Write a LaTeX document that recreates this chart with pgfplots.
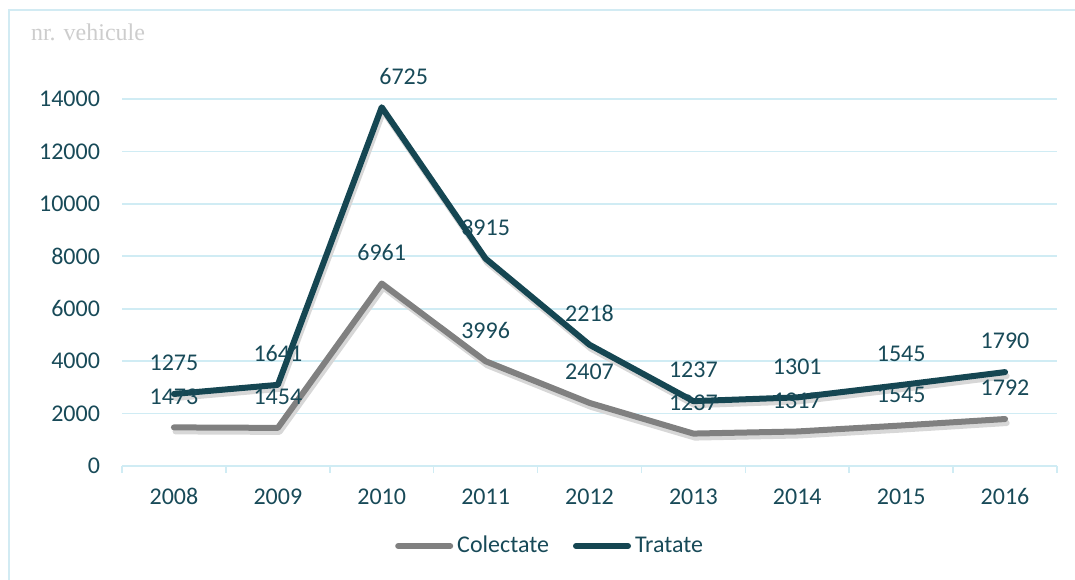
\documentclass[border=0pt]{standalone}
\usepackage{pgfplots}
\pgfplotsset{compat=1.18}
\usepackage{pgfplotstable}
\usepackage{fontspec}
\setmainfont{Carlito}
\newfontfamily\titlefont{Liberation Serif}
\definecolor{txt}{RGB}{24,74,88}
\definecolor{trat}{RGB}{21,70,82}
\definecolor{colc}{RGB}{128,128,128}
\definecolor{gridc}{RGB}{208,236,244}
\definecolor{framec}{RGB}{210,235,243}
\definecolor{titlec}{RGB}{205,205,205}
\definecolor{shadowc}{RGB}{215,215,215}

\pgfplotstableread{
x c t
0 1473 1275
1 1454 1641
2 6961 6725
3 3996 3915
4 2407 2218
5 1237 1237
6 1317 1301
7 1545 1545
8 1792 1790
}\datatable

\begin{document}
\begin{tikzpicture}[font=\fontsize{12pt}{14pt}\selectfont]
\useasboundingbox (0,0) rectangle (537.5pt,289.5pt);
\draw[framec, line width=0.8pt] (4.5pt,-5pt) -- (4.5pt,284.5pt) -- (545pt,284.5pt);
\node[anchor=west, text=titlec, font=\titlefont\fontsize{12pt}{14pt}\selectfont] at (12pt,273.5pt) {nr. vehicule};
\begin{axis}[
  at={(61pt,56.5pt)}, anchor=south west, scale only axis,
  width=467.5pt, height=183.5pt,
  xmin=-0.5, xmax=8.5, ymin=0, ymax=14000, clip=false,
  axis x line*=bottom, axis y line*=left,
  y axis line style={draw=none},
  x axis line style={draw=gridc, line width=0.8pt, -},
  xtick={0,...,8},
  xticklabels={2008,2009,2010,2011,2012,2013,2014,2015,2016},
  ytick={0,2000,...,14000},
  scaled y ticks=false,
  /pgf/number format/1000 sep={},
  /pgf/number format/assume math mode=true,
  major tick length=0pt,
  ymajorgrids, grid style={draw=gridc, line width=0.8pt},
  extra x ticks={-0.5,0.5,1.5,2.5,3.5,4.5,5.5,6.5,7.5,8.5},
  extra x tick labels={},
  extra x tick style={major tick length=3.5pt, tick align=outside, tick style={draw=gridc, line width=0.8pt}, grid=none},
  xticklabel style={anchor=base, yshift=-19.25pt, text=txt},
  yticklabel style={anchor=east, xshift=-7.5pt, text=txt},
  legend style={draw=none, fill=none, at={(0.459,-0.218)}, anchor=center,
    legend columns=2, text=txt, font=\fontsize{12pt}{14pt}\selectfont,
    /tikz/every even column/.append style={column sep=10pt}},
  legend image code/.code={\draw[#1, line width=3pt, line cap=round] (0pt,0pt) -- (26pt,0pt);},
]
\addplot[shadowc, line width=3pt, line join=round, line cap=round, forget plot, xshift=0.8pt, yshift=-2pt] table[x=x,y=c]{\datatable};
\addplot[colc, line width=3pt, line join=round, line cap=round,
  nodes near coords, point meta=explicit,
  every node near coord/.style={text=txt, anchor=center, yshift=15.5pt}]
  table[x=x,y=c,meta=c]{\datatable};
\addlegendentry{Colectate}
\addplot[shadowc, line width=3pt, line join=round, line cap=round, forget plot, xshift=0.8pt, yshift=-2pt] table[x=x,y expr=\thisrow{c}+\thisrow{t}]{\datatable};
\addplot[trat, line width=3pt, line join=round, line cap=round,
  nodes near coords, point meta=explicit,
  every node near coord/.style={text=txt, anchor=center, yshift=15.5pt},
  coordinate style/.condition={x==2}{xshift=11pt}]
  table[x=x,y expr=\thisrow{c}+\thisrow{t},meta=t]{\datatable};
\addlegendentry{Tratate}
\end{axis}
\end{tikzpicture}
\end{document}
